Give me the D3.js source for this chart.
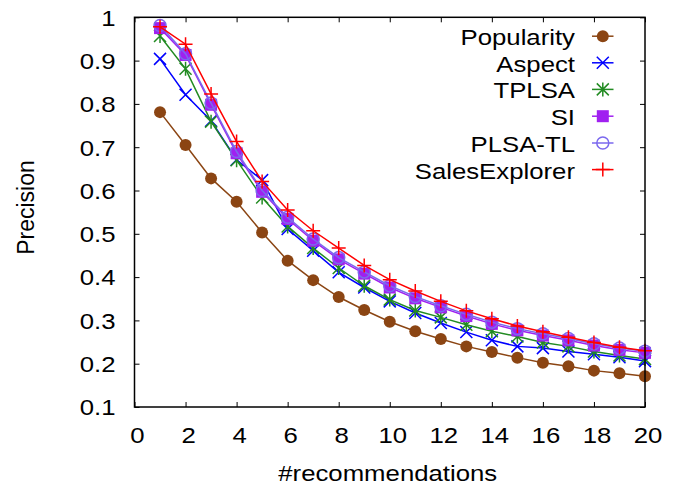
<!DOCTYPE html>
<html>
<head>
<meta charset="utf-8">
<script src="https://cdn.jsdelivr.net/npm/d3@7/dist/d3.min.js"></script>
<style>
  html, body { margin: 0; padding: 0; background: #fff; }
  svg { display: block; }
  text { font-family: "Liberation Sans", Arial, Helvetica, sans-serif; font-size: 23px; fill: #000; }
</style>
</head>
<body>
<svg id="chart" width="680" height="489"></svg>
<script>
// Number of recommendations on the x axis
const ks = d3.range(1, 21);

// Precision per method
const popularity    = [0.781, 0.705, 0.628, 0.574, 0.503, 0.438, 0.393, 0.354, 0.324, 0.297, 0.275, 0.257, 0.240, 0.227, 0.214, 0.202, 0.194, 0.184, 0.178, 0.171];
const aspect        = [0.904, 0.821, 0.761, 0.671, 0.624, 0.511, 0.461, 0.411, 0.376, 0.344, 0.317, 0.294, 0.273, 0.254, 0.240, 0.236, 0.228, 0.222, 0.215, 0.206];
const tplsa         = [0.957, 0.881, 0.759, 0.670, 0.584, 0.517, 0.467, 0.421, 0.380, 0.348, 0.323, 0.307, 0.290, 0.275, 0.263, 0.249, 0.240, 0.228, 0.219, 0.211];
const si            = [0.975, 0.913, 0.798, 0.686, 0.597, 0.534, 0.484, 0.441, 0.408, 0.376, 0.351, 0.330, 0.310, 0.292, 0.277, 0.265, 0.254, 0.242, 0.232, 0.225];
const plsaTL        = [0.981, 0.916, 0.802, 0.690, 0.600, 0.538, 0.488, 0.445, 0.412, 0.380, 0.355, 0.334, 0.314, 0.296, 0.281, 0.269, 0.258, 0.246, 0.236, 0.229];
const salesExplorer = [0.978, 0.938, 0.823, 0.713, 0.621, 0.555, 0.507, 0.467, 0.427, 0.394, 0.368, 0.344, 0.322, 0.304, 0.287, 0.274, 0.261, 0.249, 0.238, 0.230];

// Tick values
const xTicks = [0, 2, 4, 6, 8, 10, 12, 14, 16, 18, 20];
const yTicks = [0.1, 0.2, 0.3, 0.4, 0.5, 0.6, 0.7, 0.8, 0.9, 1];
const yTickLabels = ["0.1", "0.2", "0.3", "0.4", "0.5", "0.6", "0.7", "0.8", "0.9", "1"];

const series = [
  { name: "Popularity",    values: popularity,    color: "#8b4513", marker: "dot" },
  { name: "Aspect",        values: aspect,        color: "#0000ff", marker: "cross" },
  { name: "TPLSA",         values: tplsa,         color: "#228b22", marker: "star" },
  { name: "SI",            values: si,            color: "#a020f0", marker: "square" },
  { name: "PLSA-TL",       values: plsaTL,        color: "#7b68ee", marker: "ring" },
  { name: "SalesExplorer", values: salesExplorer, color: "#ff0000", marker: "plus" }
];

const svg = d3.select("#chart");
const plotL = 134.5, plotR = 645, plotT = 17.3, plotB = 407;
const x = d3.scaleLinear().domain([0, 20]).range([plotL, plotR]);
const y = d3.scaleLinear().domain([0.1, 1]).range([plotB, plotT]);
const SX = 1.12; // horizontal stretch of the lettering

function label(g, px, py, str, anchor) {
  return g.append("text")
    .attr("transform", `translate(${px},${py}) scale(${SX},1)`)
    .attr("text-anchor", anchor)
    .text(str);
}

// Inward ticks on all four sides
const tk = 5;
svg.append("g").attr("transform", `translate(0,${plotB})`)
  .call(d3.axisBottom(x).tickValues(xTicks).tickSize(-tk).tickFormat(""))
  .call(g => g.select(".domain").remove());
svg.append("g").attr("transform", `translate(0,${plotT})`)
  .call(d3.axisTop(x).tickValues(xTicks).tickSize(-tk).tickFormat(""))
  .call(g => g.select(".domain").remove());
svg.append("g").attr("transform", `translate(${plotL},0)`)
  .call(d3.axisLeft(y).tickValues(yTicks).tickSize(-tk).tickFormat(""))
  .call(g => g.select(".domain").remove());
svg.append("g").attr("transform", `translate(${plotR},0)`)
  .call(d3.axisRight(y).tickValues(yTicks).tickSize(-tk).tickFormat(""))
  .call(g => g.select(".domain").remove());
svg.selectAll(".tick line").attr("stroke", "#000").attr("stroke-width", 1);

// Tick labels
const labels = svg.append("g");
xTicks.forEach(v => label(labels, x(v) + 3, 442.7, String(v), "middle"));
yTicks.forEach((v, i) => label(labels, 115.5, y(v) + 8.3, yTickLabels[i], "end"));

// Axis titles
label(labels, (plotL + plotR) / 2 - 2, 481, "#recommendations", "middle");
svg.append("text")
  .attr("transform", `translate(34,207.5) rotate(-90)`)
  .attr("text-anchor", "middle")
  .text("Precision");

// Marker shapes
const R = 6;
function drawMarker(g, cx, cy, s) {
  const c = s.color;
  switch (s.marker) {
    case "dot":
      g.append("circle").attr("cx", cx).attr("cy", cy).attr("r", R).attr("fill", c);
      break;
    case "cross":
      g.append("path").attr("d", `M${cx-R},${cy-R}L${cx+R},${cy+R}M${cx-R},${cy+R}L${cx+R},${cy-R}`)
        .attr("stroke", c).attr("stroke-width", 1.5).attr("fill", "none");
      break;
    case "star":
      g.append("path").attr("d", `M${cx-R},${cy-R}L${cx+R},${cy+R}M${cx-R},${cy+R}L${cx+R},${cy-R}M${cx},${cy-R-1}L${cx},${cy+R+1}`)
        .attr("stroke", c).attr("stroke-width", 1.5).attr("fill", "none");
      break;
    case "square":
      g.append("rect").attr("x", cx - R).attr("y", cy - R).attr("width", 2 * R).attr("height", 2 * R).attr("fill", c);
      break;
    case "ring":
      g.append("circle").attr("cx", cx).attr("cy", cy).attr("r", R).attr("fill", "none")
        .attr("stroke", c).attr("stroke-width", 1.5);
      break;
    case "plus":
      g.append("path").attr("d", `M${cx-R-1},${cy}L${cx+R+1},${cy}M${cx},${cy-R-1}L${cx},${cy+R+1}`)
        .attr("stroke", c).attr("stroke-width", 1.5).attr("fill", "none");
      break;
  }
}

// Series lines and markers
const line = d3.line().x((d, i) => x(ks[i])).y(d => y(d));
series.forEach(s => {
  const g = svg.append("g");
  g.append("path").attr("d", line(s.values)).attr("fill", "none")
    .attr("stroke", s.color).attr("stroke-width", 1.5);
  s.values.forEach((v, i) => drawMarker(g, x(ks[i]), y(v), s));
});

// Frame
svg.append("rect").attr("x", plotL).attr("y", plotT).attr("width", plotR - plotL).attr("height", plotB - plotT)
  .attr("fill", "none").attr("stroke", "#000").attr("stroke-width", 1.5);

// Legend
const legendRows = [36.2, 62.8, 89.4, 116.2, 143, 169.6];
const leg = svg.append("g");
series.forEach((s, i) => {
  const ly = legendRows[i];
  label(leg, 575, ly + 9, s.name, "end");
  leg.append("line").attr("x1", 592).attr("x2", 613.5).attr("y1", ly).attr("y2", ly)
    .attr("stroke", s.color).attr("stroke-width", 1.5);
  drawMarker(leg, 602.8, ly, s);
});
</script>
</body>
</html>
